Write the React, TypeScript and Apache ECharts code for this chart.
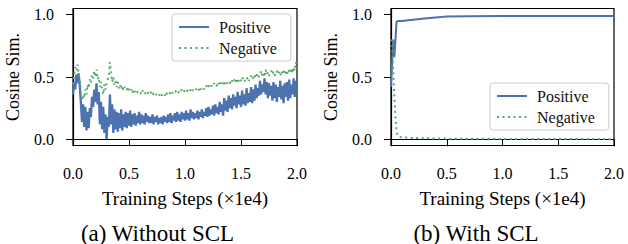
import React, { useEffect, useRef } from "react";
import * as echarts from "echarts";

// Left panel: Without SCL (x in units of 1e4 steps, sampled every 0.01)
const leftPositive = [
  0.36, 0.46, 0.40, 0.52, 0.45, 0.53, 0.44, 0.30, 0.14, 0.28,
  0.10, 0.26, 0.07, 0.22, 0.09, 0.25, 0.18, 0.34, 0.26, 0.40,
  0.30, 0.45, 0.28, 0.38, 0.12, 0.30, 0.08, 0.26, 0.05, 0.20,
  0.00, 0.18, 0.10, 0.36, 0.12, 0.28, 0.05, 0.24, 0.08, 0.22,
  0.06, 0.21, 0.09, 0.24, 0.07, 0.20, 0.10, 0.22, 0.09, 0.21,
  0.11, 0.23, 0.10, 0.20, 0.12, 0.21, 0.11, 0.19, 0.13, 0.22,
  0.12, 0.20, 0.13, 0.19, 0.12, 0.21, 0.14, 0.19, 0.13, 0.18,
  0.13, 0.20, 0.12, 0.18, 0.14, 0.19, 0.12, 0.17, 0.13, 0.18,
  0.12, 0.19, 0.14, 0.18, 0.13, 0.20, 0.14, 0.21, 0.13, 0.19,
  0.15, 0.21, 0.14, 0.22, 0.15, 0.20, 0.14, 0.22, 0.16, 0.21,
  0.15, 0.23, 0.16, 0.21, 0.15, 0.24, 0.17, 0.22, 0.16, 0.21,
  0.17, 0.23, 0.16, 0.22, 0.18, 0.24, 0.17, 0.22, 0.19, 0.25,
  0.18, 0.26, 0.19, 0.24, 0.20, 0.27, 0.19, 0.28, 0.21, 0.26,
  0.20, 0.30, 0.22, 0.28, 0.19, 0.33, 0.23, 0.31, 0.22, 0.35,
  0.25, 0.33, 0.24, 0.36, 0.27, 0.34, 0.25, 0.38, 0.28, 0.35,
  0.26, 0.39, 0.28, 0.36, 0.27, 0.41, 0.29, 0.37, 0.30, 0.42,
  0.29, 0.40, 0.31, 0.44, 0.33, 0.41, 0.35, 0.47, 0.36, 0.44,
  0.38, 0.49, 0.36, 0.46, 0.33, 0.45, 0.35, 0.43, 0.31, 0.46,
  0.33, 0.44, 0.30, 0.42, 0.34, 0.47, 0.32, 0.43, 0.29, 0.45,
  0.34, 0.46, 0.31, 0.48, 0.33, 0.44, 0.36, 0.49, 0.34, 0.47,
  0.40,
];

const leftNegative = [
  0.44, 0.52, 0.58, 0.55, 0.60, 0.53, 0.48, 0.38, 0.31, 0.36,
  0.33, 0.40, 0.36, 0.44, 0.41, 0.48, 0.45, 0.52, 0.49, 0.55,
  0.50, 0.56, 0.48, 0.50, 0.42, 0.46, 0.40, 0.36, 0.44, 0.40,
  0.45, 0.48, 0.50, 0.62, 0.52, 0.46, 0.50, 0.44, 0.47, 0.42,
  0.46, 0.41, 0.44, 0.40, 0.43, 0.39, 0.42, 0.40, 0.41, 0.38,
  0.41, 0.39, 0.40, 0.37, 0.40, 0.38, 0.39, 0.37, 0.39, 0.38,
  0.38, 0.36, 0.39, 0.37, 0.38, 0.36, 0.38, 0.37, 0.36, 0.38,
  0.37, 0.35, 0.37, 0.36, 0.35, 0.37, 0.36, 0.35, 0.37, 0.35,
  0.36, 0.37, 0.35, 0.38, 0.36, 0.37, 0.38, 0.36, 0.38, 0.37,
  0.38, 0.37, 0.39, 0.38, 0.37, 0.39, 0.38, 0.40, 0.38, 0.39,
  0.38, 0.40, 0.39, 0.38, 0.40, 0.39, 0.41, 0.39, 0.40, 0.41,
  0.40, 0.41, 0.39, 0.42, 0.40, 0.41, 0.42, 0.40, 0.42, 0.43,
  0.41, 0.43, 0.42, 0.44, 0.42, 0.43, 0.45, 0.43, 0.44, 0.42,
  0.45, 0.43, 0.46, 0.44, 0.45, 0.47, 0.44, 0.46, 0.45, 0.47,
  0.46, 0.44, 0.47, 0.46, 0.48, 0.45, 0.47, 0.49, 0.46, 0.48,
  0.47, 0.50, 0.48, 0.46, 0.49, 0.48, 0.50, 0.47, 0.49, 0.51,
  0.48, 0.50, 0.52, 0.49, 0.51, 0.53, 0.50, 0.52, 0.55, 0.51,
  0.53, 0.50, 0.56, 0.52, 0.54, 0.51, 0.53, 0.55, 0.52, 0.54,
  0.51, 0.53, 0.55, 0.52, 0.54, 0.51, 0.55, 0.53, 0.52, 0.56,
  0.53, 0.55, 0.52, 0.56, 0.54, 0.57, 0.53, 0.58, 0.55, 0.62,
  0.57,
];

// Right panel: With SCL
const rightPosSteps = [0, 0.01, 0.02, 0.03, 0.04, 0.05, 0.07, 0.1, 0.15, 0.2, 0.3, 0.4, 0.5, 0.7, 1.0, 1.5, 2.0];
const rightPositive = [0.42, 0.62, 0.80, 0.66, 0.80, 0.945, 0.95, 0.95, 0.955, 0.96, 0.97, 0.978, 0.985, 0.988, 0.99, 0.99, 0.99];
const rightNegSteps = [0, 0.01, 0.02, 0.03, 0.04, 0.05, 0.06, 0.07, 0.1, 0.2, 0.5, 1.0, 1.5, 2.0];
const rightNegative = [0.80, 0.78, 0.55, 0.35, 0.18, 0.06, 0.03, 0.02, 0.015, 0.01, 0.005, 0.003, 0.002, 0.001];

const xTicks = [0, 0.5, 1.0, 1.5, 2.0];
const yTicks = [0, 0.5, 1.0];
const captions = ["(a) Without SCL", "(b) With SCL"];
const seriesNames = ["Positive", "Negative"];

const BLUE = "#4C72B0";
const GREEN = "#55A868";
const FONT = "Liberation Serif";

export default function App() {
  const ref = useRef<HTMLDivElement>(null);
  useEffect(() => {
    if (!ref.current) return;
    const chart = echarts.init(ref.current, null, { renderer: "svg" });
    const leftX = leftPositive.map((_, i) => i / 100);
    const pairs = (xs: number[], ys: number[]) => ys.map((y, i) => [xs[i], y]);

    const grids = [
      { left: 73, top: 8.5, width: 224, height: 137 },
      { left: 391, top: 8.5, width: 223, height: 137 },
    ];

    const xAxes = grids.map((_, gi) => ({
      type: "value",
      gridIndex: gi,
      min: 0,
      max: 2,
      interval: 0.5,
      name: "Training Steps (×1e4)",
      nameLocation: "middle",
      nameGap: 43,
      nameTextStyle: { fontFamily: FONT, fontSize: 19, color: "#000" },
      axisLine: { show: true, lineStyle: { color: "#000", width: 1.2 } },
      axisTick: { show: true, length: 7, lineStyle: { color: "#000", width: 1 } },
      axisLabel: {
        margin: 20,
        color: "#000",
        fontFamily: FONT,
        fontSize: 16,
        formatter: (v: number) => v.toFixed(1),
        customValues: xTicks,
      },
      splitLine: { show: false },
    }));

    const yAxes = grids.map((_, gi) => ({
      type: "value",
      gridIndex: gi,
      min: -0.05,
      max: 1.05,
      name: "Cosine Sim.",
      nameLocation: "middle",
      nameGap: 51,
      nameTextStyle: { fontFamily: FONT, fontSize: 18, color: "#000" },
      axisLine: { show: true, lineStyle: { color: "#000", width: 1.2 } },
      axisTick: { show: true, length: 7, lineStyle: { color: "#000", width: 1 }, customValues: yTicks },
      axisLabel: {
        margin: 19,
        color: "#000",
        fontFamily: FONT,
        fontSize: 16,
        formatter: (v: number) => v.toFixed(1),
        customValues: yTicks,
      },
      splitLine: { show: false },
    }));

    const lineBase = { type: "line", symbol: "none", showSymbol: false, silent: true };
    const posStyle = (w: number) => ({ lineStyle: { color: BLUE, width: w }, itemStyle: { color: BLUE } });
    const negStyle = { lineStyle: { color: GREEN, width: 2, type: [2, 3.5] }, itemStyle: { color: GREEN } };

    const legendBase = {
      orient: "vertical",
      itemWidth: 30,
      itemHeight: 14,
      itemGap: 5,
      padding: [5, 14, 5, 6],
      borderColor: "#cccccc",
      borderWidth: 1,
      borderRadius: 3,
      backgroundColor: "rgba(255,255,255,0.8)",
      itemStyle: { opacity: 0 },
      textStyle: { fontFamily: FONT, fontSize: 16, color: "#111", padding: [0, 0, 0, 5] },
      data: seriesNames,
      selectedMode: false,
    };

    chart.setOption({
      animation: false,
      textStyle: { fontFamily: FONT },
      grid: grids.map((g) => ({ ...g, show: true, borderColor: "#000", borderWidth: 1.2, backgroundColor: "transparent" })),
      xAxis: xAxes,
      yAxis: yAxes,
      legend: [
        { ...legendBase, left: 172, top: 14 },
        { ...legendBase, left: 490, top: 83 },
      ],
      series: [
        { ...lineBase, name: seriesNames[0], xAxisIndex: 0, yAxisIndex: 0, data: pairs(leftX, leftPositive), ...posStyle(2.3) },
        { ...lineBase, name: seriesNames[1], xAxisIndex: 0, yAxisIndex: 0, data: pairs(leftX, leftNegative), ...negStyle },
        { ...lineBase, name: seriesNames[0], xAxisIndex: 1, yAxisIndex: 1, data: pairs(rightPosSteps, rightPositive), ...posStyle(2) },
        { ...lineBase, name: seriesNames[1], xAxisIndex: 1, yAxisIndex: 1, data: pairs(rightNegSteps, rightNegative), ...negStyle },
      ],
      graphic: [
        { type: "text", x: 157.5, y: 233, style: { text: captions[0], fontFamily: FONT, fontSize: 23, fill: "#000", align: "center", verticalAlign: "middle" } },
        { type: "text", x: 476, y: 233, style: { text: captions[1], fontFamily: FONT, fontSize: 23, fill: "#000", align: "center", verticalAlign: "middle" } },
      ],
    });
    return () => chart.dispose();
  }, []);
  return <div ref={ref} style={{ position: "fixed", left: 0, top: 0, width: 628, height: 244, background: "#fff" }} />;
}
